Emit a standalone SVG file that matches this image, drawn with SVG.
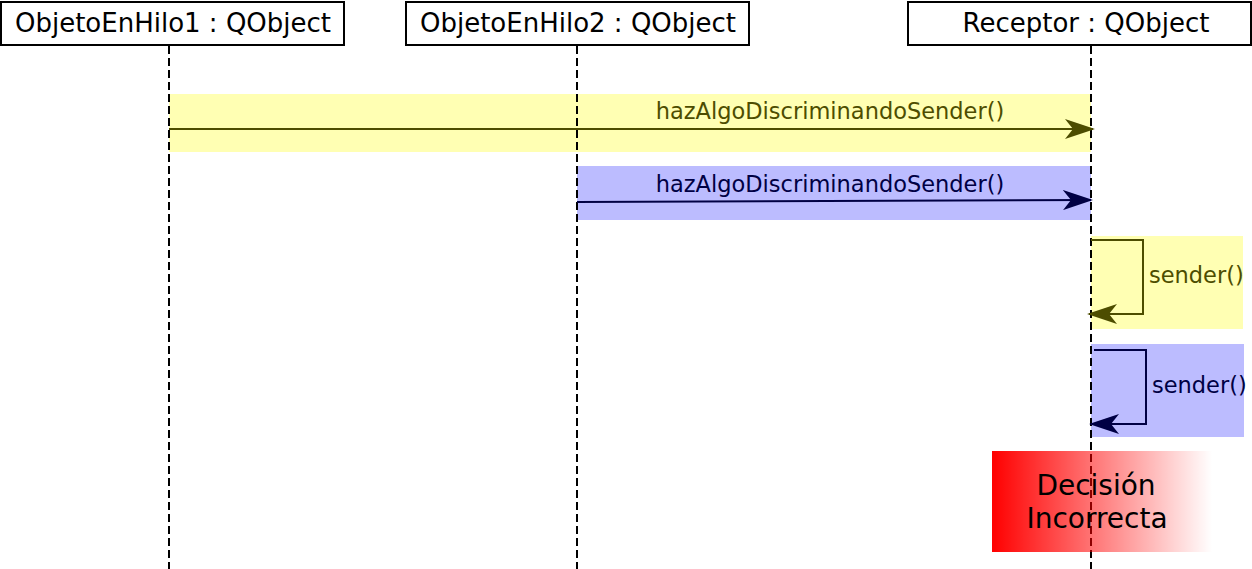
<svg xmlns="http://www.w3.org/2000/svg" width="1252" height="569" viewBox="0 0 1252 569">
<style>
.box{fill:#fff;stroke:#000;stroke-width:2}
.hdr{font-family:"DejaVu Sans",sans-serif;font-size:26px;text-anchor:middle;fill:#000}
.dec{font-family:"DejaVu Sans",sans-serif;font-size:28px;text-anchor:middle;fill:#000}
.life{stroke:#000;stroke-width:2;stroke-dasharray:8,4;fill:none}
.lbl{font-family:"DejaVu Sans",sans-serif;font-size:22.5px}
.yel{fill:#ffffb3}
.blu{fill:#bcbcff}
.ya{stroke:#4d4d00;stroke-width:2;fill:none}
.ba{stroke:#000044;stroke-width:2;fill:none}
</style>
<defs>
<marker id="mY" viewBox="0 0 30 20" refX="28" refY="10" markerWidth="30" markerHeight="20" markerUnits="userSpaceOnUse" orient="auto">
<path d="M0,0 L30,10 L0,20 L8,10 Z" fill="#4d4d00"/>
</marker>
<marker id="mB" viewBox="0 0 30 20" refX="28" refY="10" markerWidth="30" markerHeight="20" markerUnits="userSpaceOnUse" orient="auto">
<path d="M0,0 L30,10 L0,20 L8,10 Z" fill="#000044"/>
</marker>
<linearGradient id="red" x1="0" y1="0" x2="1" y2="0">
<stop offset="0" stop-color="#ff0000" stop-opacity="1"/>
<stop offset="1" stop-color="#ff0000" stop-opacity="0"/>
</linearGradient>
</defs>
<g id="backgrounds">
<rect class="yel" x="169" y="94" width="922" height="58"/>
<rect class="blu" x="577" y="166" width="514" height="54"/>
<rect class="yel" x="1091" y="236" width="152" height="93"/>
<rect class="blu" x="1091" y="344" width="153" height="93"/>
</g>
<g id="obj1">
<rect class="box" x="1" y="2" width="343" height="43"/>
<text class="hdr" x="173" y="32">ObjetoEnHilo1 : QObject</text>
</g>
<g id="obj2">
<rect class="box" x="406" y="2" width="343" height="43"/>
<text class="hdr" x="578" y="32">ObjetoEnHilo2 : QObject</text>
</g>
<g id="receptor">
<rect class="box" x="908" y="2" width="343" height="43"/>
<text class="hdr" x="1086" y="32">Receptor : QObject</text>
</g>
<g id="lifelines">
<line class="life" x1="169" y1="46" x2="169" y2="569"/>
<line class="life" x1="577" y1="46" x2="577" y2="569"/>
<line class="life" x1="1091" y1="46" x2="1091" y2="569"/>
</g>
<g id="decision">
<rect x="992" y="451" width="220" height="101" fill="url(#red)"/>
<text class="dec" x="1096" y="495">Decisión</text>
<text class="dec" x="1097" y="528">Incorrecta</text>
</g>
<g id="connectors">
<line class="ya" x1="169" y1="129" x2="1093" y2="129" marker-end="url(#mY)"/>
<text class="lbl" x="830" y="119" text-anchor="middle" fill="#4d4d00">hazAlgoDiscriminandoSender()</text>
<line class="ba" x1="577" y1="202" x2="1091" y2="200" marker-end="url(#mB)"/>
<text class="lbl" x="830" y="192" text-anchor="middle" fill="#000044">hazAlgoDiscriminandoSender()</text>
<polyline class="ya" points="1091,240 1143,240 1143,314 1089,314" marker-end="url(#mY)"/>
<text class="lbl" x="1149" y="283" fill="#4d4d00">sender()</text>
<polyline class="ba" points="1094,350 1146,350 1146,424 1091,424" marker-end="url(#mB)"/>
<text class="lbl" x="1152" y="393" fill="#000044">sender()</text>
</g>
</svg>
